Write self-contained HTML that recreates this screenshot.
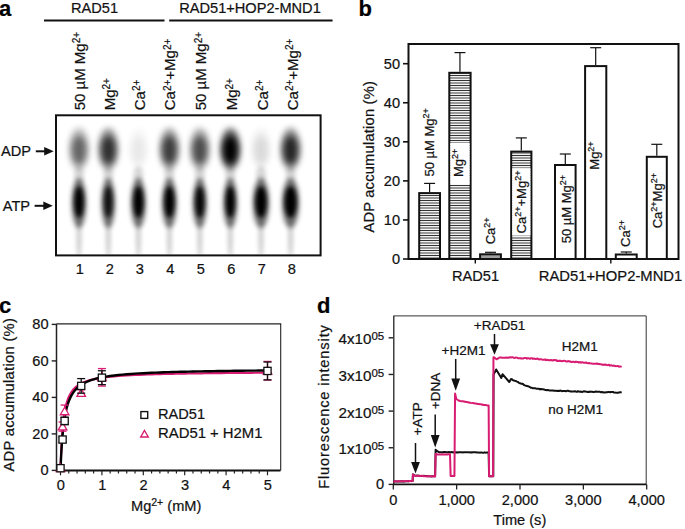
<!DOCTYPE html>
<html><head><meta charset="utf-8"><style>
html,body{margin:0;padding:0;background:#fff;width:685px;height:529px;overflow:hidden;}
text{font-family:"Liberation Sans", sans-serif;stroke:#111;stroke-width:0.22px;}
</style></head><body>
<svg width="685" height="529" viewBox="0 0 685 529" style="position:absolute;left:0;top:0" font-family='"Liberation Sans", sans-serif'>
<defs>
<filter id="b3" x="-100%" y="-100%" width="300%" height="300%"><feGaussianBlur stdDeviation="3.2"/></filter>
<filter id="b2" x="-100%" y="-100%" width="300%" height="300%"><feGaussianBlur stdDeviation="2.2"/></filter>
<filter id="b25" x="-100%" y="-100%" width="300%" height="300%"><feGaussianBlur stdDeviation="2.7"/></filter>
<filter id="b1" x="-100%" y="-100%" width="300%" height="300%"><feGaussianBlur stdDeviation="1.3"/></filter>
<clipPath id="gelclip"><rect x="57" y="116.3" width="262.6" height="138.1"/></clipPath>
<pattern id="hatch" patternUnits="userSpaceOnUse" width="40" height="5" y="0"><rect width="40" height="5" fill="#f2f2f2"/><rect y="0" width="40" height="1" fill="#333"/><rect y="2" width="40" height="2" fill="#9a9a9a"/></pattern>
</defs>
<rect width="685" height="529" fill="#fff"/>
<text x="-1" y="16.2" font-size="22" text-anchor="start" font-weight="bold" fill="#000" >a</text>
<text x="94.6" y="12.9" font-size="14.6" text-anchor="middle" font-weight="normal" fill="#111" >RAD51</text>
<text x="250" y="12.9" font-size="14.6" text-anchor="middle" font-weight="normal" fill="#111" >RAD51+HOP2-MND1</text>
<line x1="44" y1="20.5" x2="164.5" y2="20.5" stroke="#111" stroke-width="2"/>
<line x1="169.2" y1="20.5" x2="332.6" y2="20.5" stroke="#111" stroke-width="2"/>
<text transform="translate(84.5,110.3) rotate(-90)" font-size="15" fill="#111"><tspan dy="0">50 µM Mg</tspan><tspan font-size="10" dy="-4.8">2+</tspan></text>
<text transform="translate(114.5,110.3) rotate(-90)" font-size="15" fill="#111"><tspan dy="0">Mg</tspan><tspan font-size="10" dy="-4.8">2+</tspan></text>
<text transform="translate(144.7,110.3) rotate(-90)" font-size="15" fill="#111"><tspan dy="0">Ca</tspan><tspan font-size="10" dy="-4.8">2+</tspan></text>
<text transform="translate(175.39999999999998,110.3) rotate(-90)" font-size="15" fill="#111"><tspan dy="0">Ca</tspan><tspan font-size="10" dy="-4.8">2+</tspan><tspan dy="4.8">+Mg</tspan><tspan font-size="10" dy="-4.8">2+</tspan></text>
<text transform="translate(206.29999999999998,110.3) rotate(-90)" font-size="15" fill="#111"><tspan dy="0">50 µM Mg</tspan><tspan font-size="10" dy="-4.8">2+</tspan></text>
<text transform="translate(237.39999999999998,110.3) rotate(-90)" font-size="15" fill="#111"><tspan dy="0">Mg</tspan><tspan font-size="10" dy="-4.8">2+</tspan></text>
<text transform="translate(267.7,110.3) rotate(-90)" font-size="15" fill="#111"><tspan dy="0">Ca</tspan><tspan font-size="10" dy="-4.8">2+</tspan></text>
<text transform="translate(297.9,110.3) rotate(-90)" font-size="15" fill="#111"><tspan dy="0">Ca</tspan><tspan font-size="10" dy="-4.8">2+</tspan><tspan dy="4.8">+Mg</tspan><tspan font-size="10" dy="-4.8">2+</tspan></text>
<g clip-path="url(#gelclip)">
<ellipse cx="79.0" cy="238" rx="2.6" ry="20" fill="#000" opacity="0.19" filter="url(#b2)"/>
<ellipse cx="79.0" cy="175" rx="5" ry="9" fill="#000" opacity="0.15" filter="url(#b2)"/>
<ellipse cx="79.0" cy="149" rx="10" ry="21" fill="#000" opacity="0.27" filter="url(#b3)"/>
<ellipse cx="79.0" cy="150" rx="7" ry="14" fill="#000" opacity="0.45" filter="url(#b3)"/>
<ellipse cx="79.0" cy="203" rx="7.3" ry="25" fill="#000" opacity="0.55" filter="url(#b25)"/>
<ellipse cx="79.0" cy="202" rx="4.7" ry="16" fill="#000" opacity="1" filter="url(#b2)"/>
<ellipse cx="108.3" cy="238" rx="2.6" ry="20" fill="#000" opacity="0.19" filter="url(#b2)"/>
<ellipse cx="108.3" cy="175" rx="5" ry="9" fill="#000" opacity="0.15" filter="url(#b2)"/>
<ellipse cx="108.3" cy="149" rx="10" ry="21" fill="#000" opacity="0.41" filter="url(#b3)"/>
<ellipse cx="108.3" cy="150" rx="7" ry="14" fill="#000" opacity="0.68" filter="url(#b3)"/>
<ellipse cx="108.3" cy="203" rx="6.9" ry="25" fill="#000" opacity="0.55" filter="url(#b25)"/>
<ellipse cx="108.3" cy="202" rx="4.3" ry="16" fill="#000" opacity="0.85" filter="url(#b2)"/>
<ellipse cx="138.4" cy="238" rx="2.6" ry="20" fill="#000" opacity="0.19" filter="url(#b2)"/>
<ellipse cx="138.4" cy="175" rx="5" ry="9" fill="#000" opacity="0.15" filter="url(#b2)"/>
<ellipse cx="138.4" cy="149" rx="10" ry="21" fill="#000" opacity="0.03" filter="url(#b3)"/>
<ellipse cx="138.4" cy="150" rx="7" ry="14" fill="#000" opacity="0.05" filter="url(#b3)"/>
<ellipse cx="138.4" cy="203" rx="7.5" ry="25" fill="#000" opacity="0.55" filter="url(#b25)"/>
<ellipse cx="138.4" cy="202" rx="4.9" ry="16" fill="#000" opacity="1" filter="url(#b2)"/>
<ellipse cx="169.4" cy="238" rx="2.6" ry="20" fill="#000" opacity="0.19" filter="url(#b2)"/>
<ellipse cx="169.4" cy="175" rx="5" ry="9" fill="#000" opacity="0.15" filter="url(#b2)"/>
<ellipse cx="169.4" cy="149" rx="10" ry="21" fill="#000" opacity="0.37" filter="url(#b3)"/>
<ellipse cx="169.4" cy="150" rx="7" ry="14" fill="#000" opacity="0.62" filter="url(#b3)"/>
<ellipse cx="169.4" cy="203" rx="7.5" ry="25" fill="#000" opacity="0.55" filter="url(#b25)"/>
<ellipse cx="169.4" cy="202" rx="4.9" ry="16" fill="#000" opacity="1" filter="url(#b2)"/>
<ellipse cx="199.8" cy="238" rx="2.6" ry="20" fill="#000" opacity="0.19" filter="url(#b2)"/>
<ellipse cx="199.8" cy="175" rx="5" ry="9" fill="#000" opacity="0.15" filter="url(#b2)"/>
<ellipse cx="199.8" cy="149" rx="10" ry="21" fill="#000" opacity="0.33" filter="url(#b3)"/>
<ellipse cx="199.8" cy="150" rx="7" ry="14" fill="#000" opacity="0.55" filter="url(#b3)"/>
<ellipse cx="199.8" cy="203" rx="7.1" ry="25" fill="#000" opacity="0.55" filter="url(#b25)"/>
<ellipse cx="199.8" cy="202" rx="4.5" ry="16" fill="#000" opacity="0.95" filter="url(#b2)"/>
<ellipse cx="230.3" cy="238" rx="2.6" ry="20" fill="#000" opacity="0.19" filter="url(#b2)"/>
<ellipse cx="230.3" cy="175" rx="5" ry="9" fill="#000" opacity="0.15" filter="url(#b2)"/>
<ellipse cx="230.3" cy="149" rx="10" ry="21" fill="#000" opacity="0.60" filter="url(#b3)"/>
<ellipse cx="230.3" cy="150" rx="7" ry="14" fill="#000" opacity="1.00" filter="url(#b3)"/>
<ellipse cx="230.3" cy="203" rx="7.1" ry="25" fill="#000" opacity="0.55" filter="url(#b25)"/>
<ellipse cx="230.3" cy="202" rx="4.5" ry="16" fill="#000" opacity="1" filter="url(#b2)"/>
<ellipse cx="261.0" cy="238" rx="2.6" ry="20" fill="#000" opacity="0.19" filter="url(#b2)"/>
<ellipse cx="261.0" cy="175" rx="5" ry="9" fill="#000" opacity="0.15" filter="url(#b2)"/>
<ellipse cx="261.0" cy="149" rx="10" ry="21" fill="#000" opacity="0.05" filter="url(#b3)"/>
<ellipse cx="261.0" cy="150" rx="7" ry="14" fill="#000" opacity="0.09" filter="url(#b3)"/>
<ellipse cx="261.0" cy="203" rx="8.2" ry="25" fill="#000" opacity="0.55" filter="url(#b25)"/>
<ellipse cx="261.0" cy="202" rx="5.6000000000000005" ry="16" fill="#000" opacity="1" filter="url(#b2)"/>
<ellipse cx="290.6" cy="238" rx="2.6" ry="20" fill="#000" opacity="0.19" filter="url(#b2)"/>
<ellipse cx="290.6" cy="175" rx="5" ry="9" fill="#000" opacity="0.15" filter="url(#b2)"/>
<ellipse cx="290.6" cy="149" rx="10" ry="21" fill="#000" opacity="0.44" filter="url(#b3)"/>
<ellipse cx="290.6" cy="150" rx="7" ry="14" fill="#000" opacity="0.74" filter="url(#b3)"/>
<ellipse cx="290.6" cy="203" rx="8.6" ry="25" fill="#000" opacity="0.55" filter="url(#b25)"/>
<ellipse cx="290.6" cy="202" rx="6.0" ry="16" fill="#000" opacity="1" filter="url(#b2)"/>
</g>
<rect x="56" y="115.3" width="264.6" height="140.1" fill="none" stroke="#111" stroke-width="2"/>
<text x="1.0" y="156" font-size="14.6" text-anchor="start" font-weight="normal" fill="#111" >ADP</text>
<text x="2.8" y="211.4" font-size="14.6" text-anchor="start" font-weight="normal" fill="#111" >ATP</text>
<line x1="35.8" y1="151.3" x2="45.7" y2="151.3" stroke="#111" stroke-width="2"/>
<polygon points="44.2,147.0 53.7,151.3 44.2,155.60000000000002" fill="#111"/>
<line x1="34.6" y1="205.8" x2="44.8" y2="205.8" stroke="#111" stroke-width="2"/>
<polygon points="43.3,201.5 52.8,205.8 43.3,210.10000000000002" fill="#111"/>
<text x="79.7" y="273.6" font-size="14.6" text-anchor="middle" font-weight="normal" fill="#111" >1</text>
<text x="109.7" y="273.6" font-size="14.6" text-anchor="middle" font-weight="normal" fill="#111" >2</text>
<text x="139.7" y="273.6" font-size="14.6" text-anchor="middle" font-weight="normal" fill="#111" >3</text>
<text x="170.2" y="273.6" font-size="14.6" text-anchor="middle" font-weight="normal" fill="#111" >4</text>
<text x="200.7" y="273.6" font-size="14.6" text-anchor="middle" font-weight="normal" fill="#111" >5</text>
<text x="231.2" y="273.6" font-size="14.6" text-anchor="middle" font-weight="normal" fill="#111" >6</text>
<text x="261.7" y="273.6" font-size="14.6" text-anchor="middle" font-weight="normal" fill="#111" >7</text>
<text x="291.7" y="273.6" font-size="14.6" text-anchor="middle" font-weight="normal" fill="#111" >8</text>
<text x="358.6" y="16.3" font-size="22" text-anchor="start" font-weight="bold" fill="#000" >b</text>
<line x1="403" y1="259.00" x2="408" y2="259.00" stroke="#111" stroke-width="1.6"/>
<text x="400" y="264.0" font-size="14.6" text-anchor="end" font-weight="normal" fill="#111" >0</text>
<line x1="403" y1="219.94" x2="408" y2="219.94" stroke="#111" stroke-width="1.6"/>
<text x="400" y="224.94" font-size="14.6" text-anchor="end" font-weight="normal" fill="#111" >10</text>
<line x1="403" y1="180.88" x2="408" y2="180.88" stroke="#111" stroke-width="1.6"/>
<text x="400" y="185.88" font-size="14.6" text-anchor="end" font-weight="normal" fill="#111" >20</text>
<line x1="403" y1="141.82" x2="408" y2="141.82" stroke="#111" stroke-width="1.6"/>
<text x="400" y="146.82" font-size="14.6" text-anchor="end" font-weight="normal" fill="#111" >30</text>
<line x1="403" y1="102.76" x2="408" y2="102.76" stroke="#111" stroke-width="1.6"/>
<text x="400" y="107.75999999999999" font-size="14.6" text-anchor="end" font-weight="normal" fill="#111" >40</text>
<line x1="403" y1="63.70" x2="408" y2="63.70" stroke="#111" stroke-width="1.6"/>
<text x="400" y="68.69999999999999" font-size="14.6" text-anchor="end" font-weight="normal" fill="#111" >50</text>
<text transform="translate(373.6,232.6) rotate(-90)" font-size="14.7" fill="#111" textLength="151.5" lengthAdjust="spacing">ADP accumulation (%)</text>
<line x1="429.60" y1="183.4" x2="429.60" y2="192.1" stroke="#111" stroke-width="1.2"/>
<line x1="424.10" y1="183.4" x2="435.10" y2="183.4" stroke="#111" stroke-width="1.2"/>
<rect x="419.2" y="193.1" width="20.80" height="65.90" fill="url(#hatch)" stroke="#111" stroke-width="2"/>
<line x1="459.95" y1="52.6" x2="459.95" y2="71.8" stroke="#111" stroke-width="1.2"/>
<line x1="454.45" y1="52.6" x2="465.45" y2="52.6" stroke="#111" stroke-width="1.2"/>
<rect x="449.3" y="72.8" width="21.30" height="186.20" fill="url(#hatch)" stroke="#111" stroke-width="2"/>
<rect x="450.3" y="143.0" width="19.30" height="41.60" fill="#fff"/>
<line x1="490.50" y1="252.3" x2="490.50" y2="253.3" stroke="#111" stroke-width="1.2"/>
<line x1="485.00" y1="252.3" x2="496.00" y2="252.3" stroke="#111" stroke-width="1.2"/>
<rect x="480.1" y="254.3" width="20.80" height="4.70" fill="#a0a0a0" stroke="#111" stroke-width="2"/>
<line x1="521.30" y1="137.9" x2="521.30" y2="150.6" stroke="#111" stroke-width="1.2"/>
<line x1="515.80" y1="137.9" x2="526.80" y2="137.9" stroke="#111" stroke-width="1.2"/>
<rect x="511.2" y="151.6" width="20.20" height="107.40" fill="url(#hatch)" stroke="#111" stroke-width="2"/>
<rect x="512.2" y="168.2" width="18.20" height="67.50" fill="#fff"/>
<line x1="565.30" y1="154.0" x2="565.30" y2="164.0" stroke="#111" stroke-width="1.2"/>
<line x1="559.80" y1="154.0" x2="570.80" y2="154.0" stroke="#111" stroke-width="1.2"/>
<rect x="555.0" y="165.0" width="20.60" height="94.00" fill="#fff" stroke="#111" stroke-width="2"/>
<line x1="595.70" y1="47.7" x2="595.70" y2="65.1" stroke="#111" stroke-width="1.2"/>
<line x1="590.20" y1="47.7" x2="601.20" y2="47.7" stroke="#111" stroke-width="1.2"/>
<rect x="585.1" y="66.1" width="21.20" height="192.90" fill="#fff" stroke="#111" stroke-width="2"/>
<line x1="626.25" y1="252.0" x2="626.25" y2="253.5" stroke="#111" stroke-width="1.2"/>
<line x1="620.75" y1="252.0" x2="631.75" y2="252.0" stroke="#111" stroke-width="1.2"/>
<rect x="615.8" y="254.5" width="20.90" height="4.50" fill="#fff" stroke="#111" stroke-width="2"/>
<line x1="656.80" y1="144.3" x2="656.80" y2="155.8" stroke="#111" stroke-width="1.2"/>
<line x1="651.30" y1="144.3" x2="662.30" y2="144.3" stroke="#111" stroke-width="1.2"/>
<rect x="646.8" y="156.8" width="20.00" height="102.20" fill="#fff" stroke="#111" stroke-width="2"/>
<rect x="408.5" y="44" width="270" height="215" fill="none" stroke="#111" stroke-width="2"/>
<text transform="translate(433.9,176.6) rotate(-90)" font-size="13" fill="#111"><tspan dy="0">50 µM Mg</tspan><tspan font-size="9" dy="-5">2+</tspan></text>
<text transform="translate(462.5,177.0) rotate(-90)" font-size="13" fill="#111"><tspan dy="0">Mg</tspan><tspan font-size="9" dy="-5">2+</tspan></text>
<text transform="translate(494.6,244.3) rotate(-90)" font-size="13" fill="#111"><tspan dy="0">Ca</tspan><tspan font-size="9" dy="-5">2+</tspan></text>
<text transform="translate(526.3,233.4) rotate(-90)" font-size="13" fill="#111"><tspan dy="0">Ca</tspan><tspan font-size="9" dy="-5">2+</tspan><tspan dy="5">+Mg</tspan><tspan font-size="9" dy="-5">2+</tspan></text>
<text transform="translate(570.8,243.3) rotate(-90)" font-size="13" fill="#111"><tspan dy="0">50 µM Mg</tspan><tspan font-size="9" dy="-5">2+</tspan></text>
<text transform="translate(599.0,169.7) rotate(-90)" font-size="13" fill="#111"><tspan dy="0">Mg</tspan><tspan font-size="9" dy="-5">2+</tspan></text>
<text transform="translate(629.6,246.9) rotate(-90)" font-size="13" fill="#111"><tspan dy="0">Ca</tspan><tspan font-size="9" dy="-5">2+</tspan></text>
<text transform="translate(661.8,228.3) rotate(-90)" font-size="13" fill="#111"><tspan dy="0">Ca</tspan><tspan font-size="9" dy="-5">2+</tspan><tspan dy="5">Mg</tspan><tspan font-size="9" dy="-5">2+</tspan></text>
<line x1="475.3" y1="259" x2="475.3" y2="263.5" stroke="#111" stroke-width="1.4"/>
<line x1="610.8" y1="259" x2="610.8" y2="263.5" stroke="#111" stroke-width="1.4"/>
<text x="475.6" y="281.2" font-size="14.6" text-anchor="middle" font-weight="normal" fill="#111" >RAD51</text>
<text x="610.5" y="281.0" font-size="14.6" text-anchor="middle" font-weight="normal" fill="#111" textLength="143.5" lengthAdjust="spacingAndGlyphs">RAD51+HOP2-MND1</text>
<text x="-1" y="312.9" font-size="22" text-anchor="start" font-weight="bold" fill="#000" >c</text>
<line x1="56.5" y1="323.9" x2="281.2" y2="323.9" stroke="#222" stroke-width="1.1"/>
<line x1="280.7" y1="323.9" x2="280.7" y2="470.4" stroke="#222" stroke-width="1.1"/>
<line x1="56.5" y1="323.9" x2="56.5" y2="470.4" stroke="#222" stroke-width="1.5"/>
<line x1="56" y1="470.4" x2="280.5" y2="470.4" stroke="#111" stroke-width="2"/>
<line x1="51.7" y1="470.40" x2="56.5" y2="470.40" stroke="#222" stroke-width="1.4"/>
<text x="48.6" y="475.4" font-size="14.6" text-anchor="end" font-weight="normal" fill="#111" >0</text>
<line x1="51.7" y1="433.90" x2="56.5" y2="433.90" stroke="#222" stroke-width="1.4"/>
<text x="48.6" y="438.9" font-size="14.6" text-anchor="end" font-weight="normal" fill="#111" >20</text>
<line x1="51.7" y1="397.40" x2="56.5" y2="397.40" stroke="#222" stroke-width="1.4"/>
<text x="48.6" y="402.4" font-size="14.6" text-anchor="end" font-weight="normal" fill="#111" >40</text>
<line x1="51.7" y1="360.90" x2="56.5" y2="360.90" stroke="#222" stroke-width="1.4"/>
<text x="48.6" y="365.9" font-size="14.6" text-anchor="end" font-weight="normal" fill="#111" >60</text>
<line x1="51.7" y1="324.40" x2="56.5" y2="324.40" stroke="#222" stroke-width="1.4"/>
<text x="48.6" y="329.4" font-size="14.6" text-anchor="end" font-weight="normal" fill="#111" >80</text>
<line x1="60.50" y1="470.4" x2="60.50" y2="475.30" stroke="#222" stroke-width="1.2"/>
<text x="60.8" y="490.3" font-size="14.6" text-anchor="middle" font-weight="normal" fill="#111" >0</text>
<line x1="68.78" y1="470.4" x2="68.78" y2="473.50" stroke="#222" stroke-width="1.2"/>
<line x1="77.06" y1="470.4" x2="77.06" y2="473.50" stroke="#222" stroke-width="1.2"/>
<line x1="85.34" y1="470.4" x2="85.34" y2="473.50" stroke="#222" stroke-width="1.2"/>
<line x1="93.62" y1="470.4" x2="93.62" y2="473.50" stroke="#222" stroke-width="1.2"/>
<line x1="101.90" y1="470.4" x2="101.90" y2="475.30" stroke="#222" stroke-width="1.2"/>
<text x="102.2" y="490.3" font-size="14.6" text-anchor="middle" font-weight="normal" fill="#111" >1</text>
<line x1="110.18" y1="470.4" x2="110.18" y2="473.50" stroke="#222" stroke-width="1.2"/>
<line x1="118.46" y1="470.4" x2="118.46" y2="473.50" stroke="#222" stroke-width="1.2"/>
<line x1="126.74" y1="470.4" x2="126.74" y2="473.50" stroke="#222" stroke-width="1.2"/>
<line x1="135.02" y1="470.4" x2="135.02" y2="473.50" stroke="#222" stroke-width="1.2"/>
<line x1="143.30" y1="470.4" x2="143.30" y2="475.30" stroke="#222" stroke-width="1.2"/>
<text x="143.60000000000002" y="490.3" font-size="14.6" text-anchor="middle" font-weight="normal" fill="#111" >2</text>
<line x1="151.58" y1="470.4" x2="151.58" y2="473.50" stroke="#222" stroke-width="1.2"/>
<line x1="159.86" y1="470.4" x2="159.86" y2="473.50" stroke="#222" stroke-width="1.2"/>
<line x1="168.14" y1="470.4" x2="168.14" y2="473.50" stroke="#222" stroke-width="1.2"/>
<line x1="176.42" y1="470.4" x2="176.42" y2="473.50" stroke="#222" stroke-width="1.2"/>
<line x1="184.70" y1="470.4" x2="184.70" y2="475.30" stroke="#222" stroke-width="1.2"/>
<text x="185.0" y="490.3" font-size="14.6" text-anchor="middle" font-weight="normal" fill="#111" >3</text>
<line x1="192.98" y1="470.4" x2="192.98" y2="473.50" stroke="#222" stroke-width="1.2"/>
<line x1="201.26" y1="470.4" x2="201.26" y2="473.50" stroke="#222" stroke-width="1.2"/>
<line x1="209.54" y1="470.4" x2="209.54" y2="473.50" stroke="#222" stroke-width="1.2"/>
<line x1="217.82" y1="470.4" x2="217.82" y2="473.50" stroke="#222" stroke-width="1.2"/>
<line x1="226.10" y1="470.4" x2="226.10" y2="475.30" stroke="#222" stroke-width="1.2"/>
<text x="226.4" y="490.3" font-size="14.6" text-anchor="middle" font-weight="normal" fill="#111" >4</text>
<line x1="234.38" y1="470.4" x2="234.38" y2="473.50" stroke="#222" stroke-width="1.2"/>
<line x1="242.66" y1="470.4" x2="242.66" y2="473.50" stroke="#222" stroke-width="1.2"/>
<line x1="250.94" y1="470.4" x2="250.94" y2="473.50" stroke="#222" stroke-width="1.2"/>
<line x1="259.22" y1="470.4" x2="259.22" y2="473.50" stroke="#222" stroke-width="1.2"/>
<line x1="267.50" y1="470.4" x2="267.50" y2="475.30" stroke="#222" stroke-width="1.2"/>
<text x="267.8" y="490.3" font-size="14.6" text-anchor="middle" font-weight="normal" fill="#111" >5</text>
<text transform="translate(13.9,471.6) rotate(-90)" font-size="14.7" fill="#111" textLength="153.5" lengthAdjust="spacing">ADP accumulation (%)</text>
<text x="131" y="511.2" font-size="14.6" fill="#111">Mg<tspan font-size="10.5" dy="-5.5">2+</tspan><tspan dy="5.5"> (mM)</tspan></text>
<polyline points="60.50,470.40 60.71,463.79 60.91,458.01 61.12,452.91 61.33,448.38 61.53,444.32 61.74,440.67 61.95,437.37 62.16,434.36 62.36,431.62 62.57,429.11 62.78,426.80 62.98,424.66 63.19,422.69 63.40,420.85 63.60,419.14 63.81,417.55 64.02,416.06 64.23,414.66 64.43,413.34 64.64,412.11 64.85,410.94 65.05,409.84 65.26,408.80 65.47,407.81 65.67,406.88 65.88,405.99 66.09,405.14 66.30,404.33 66.50,403.57 66.71,402.83 66.92,402.13 67.12,401.46 67.33,400.82 67.54,400.21 67.75,399.62 67.95,399.05 68.16,398.51 68.37,397.98 68.57,397.48 68.78,396.99 69.61,395.22 70.44,393.68 71.26,392.32 72.09,391.12 72.92,390.05 73.75,389.09 74.58,388.22 75.40,387.43 76.23,386.72 77.06,386.06 77.89,385.46 78.72,384.90 79.54,384.39 80.37,383.91 81.20,383.47 82.03,383.06 82.86,382.67 83.68,382.31 84.51,381.97 85.34,381.66 86.17,381.36 87.00,381.07 87.82,380.80 88.65,380.55 89.48,380.31 90.31,380.08 91.14,379.87 91.96,379.66 92.79,379.46 93.62,379.28 94.45,379.10 95.28,378.93 96.10,378.76 96.93,378.60 97.76,378.45 98.59,378.31 99.42,378.17 100.24,378.04 101.07,377.91 101.90,377.79 106.04,377.23 110.18,376.76 114.32,376.37 118.46,376.02 122.60,375.72 126.74,375.46 130.88,375.22 135.02,375.01 139.16,374.82 143.30,374.65 147.44,374.50 151.58,374.36 155.72,374.23 159.86,374.11 164.00,374.00 168.14,373.90 172.28,373.81 176.42,373.72 180.56,373.64 184.70,373.56 188.84,373.49 192.98,373.42 197.12,373.36 201.26,373.30 205.40,373.25 209.54,373.19 213.68,373.14 217.82,373.09 221.96,373.05 226.10,373.01 230.24,372.97 234.38,372.93 238.52,372.89 242.66,372.85 246.80,372.82 250.94,372.79 255.08,372.76 259.22,372.73 263.36,372.70 267.50,372.67" fill="none" stroke="#d81c72" stroke-width="2.2"/>
<polyline points="60.50,470.40 60.71,465.31 60.91,460.70 61.12,456.51 61.33,452.69 61.53,449.18 61.74,445.96 61.95,442.98 62.16,440.23 62.36,437.67 62.57,435.28 62.78,433.06 62.98,430.98 63.19,429.03 63.40,427.20 63.60,425.47 63.81,423.85 64.02,422.31 64.23,420.86 64.43,419.48 64.64,418.18 64.85,416.94 65.05,415.76 65.26,414.63 65.47,413.56 65.67,412.54 65.88,411.56 66.09,410.63 66.30,409.73 66.50,408.87 66.71,408.05 66.92,407.26 67.12,406.50 67.33,405.77 67.54,405.07 67.75,404.40 67.95,403.74 68.16,403.12 68.37,402.51 68.57,401.92 68.78,401.36 69.61,399.28 70.44,397.44 71.26,395.82 72.09,394.36 72.92,393.06 73.75,391.88 74.58,390.80 75.40,389.83 76.23,388.93 77.06,388.11 77.89,387.35 78.72,386.65 79.54,386.00 80.37,385.39 81.20,384.82 82.03,384.30 82.86,383.80 83.68,383.33 84.51,382.90 85.34,382.48 86.17,382.10 87.00,381.73 87.82,381.38 88.65,381.05 89.48,380.73 90.31,380.44 91.14,380.15 91.96,379.88 92.79,379.62 93.62,379.37 94.45,379.14 95.28,378.91 96.10,378.70 96.93,378.49 97.76,378.29 98.59,378.10 99.42,377.91 100.24,377.73 101.07,377.56 101.90,377.40 106.04,376.66 110.18,376.04 114.32,375.50 118.46,375.04 122.60,374.63 126.74,374.27 130.88,373.95 135.02,373.67 139.16,373.41 143.30,373.18 147.44,372.97 151.58,372.78 155.72,372.60 159.86,372.44 164.00,372.29 168.14,372.15 172.28,372.03 176.42,371.91 180.56,371.80 184.70,371.69 188.84,371.59 192.98,371.50 197.12,371.41 201.26,371.33 205.40,371.26 209.54,371.18 213.68,371.11 217.82,371.05 221.96,370.99 226.10,370.93 230.24,370.87 234.38,370.82 238.52,370.77 242.66,370.72 246.80,370.67 250.94,370.63 255.08,370.58 259.22,370.54 263.36,370.50 267.50,370.46" fill="none" stroke="#000" stroke-width="2.4"/>
<line x1="62.57" y1="422.04" x2="62.57" y2="431.16" stroke="#d81c72" stroke-width="1.3"/>
<line x1="58.57" y1="422.04" x2="66.57" y2="422.04" stroke="#d81c72" stroke-width="1.3"/>
<line x1="58.57" y1="431.16" x2="66.57" y2="431.16" stroke="#d81c72" stroke-width="1.3"/>
<line x1="64.64" y1="405.06" x2="64.64" y2="417.84" stroke="#d81c72" stroke-width="1.3"/>
<line x1="60.64" y1="405.06" x2="68.64" y2="405.06" stroke="#d81c72" stroke-width="1.3"/>
<line x1="60.64" y1="417.84" x2="68.64" y2="417.84" stroke="#d81c72" stroke-width="1.3"/>
<line x1="81.20" y1="389.74" x2="81.20" y2="396.30" stroke="#d81c72" stroke-width="1.3"/>
<line x1="77.20" y1="389.74" x2="85.20" y2="389.74" stroke="#d81c72" stroke-width="1.3"/>
<line x1="77.20" y1="396.30" x2="85.20" y2="396.30" stroke="#d81c72" stroke-width="1.3"/>
<line x1="101.90" y1="368.56" x2="101.90" y2="386.08" stroke="#d81c72" stroke-width="1.3"/>
<line x1="97.90" y1="368.56" x2="105.90" y2="368.56" stroke="#d81c72" stroke-width="1.3"/>
<line x1="97.90" y1="386.08" x2="105.90" y2="386.08" stroke="#d81c72" stroke-width="1.3"/>
<line x1="267.50" y1="361.45" x2="267.50" y2="380.06" stroke="#d81c72" stroke-width="1.3"/>
<line x1="263.50" y1="361.45" x2="271.50" y2="361.45" stroke="#d81c72" stroke-width="1.3"/>
<line x1="263.50" y1="380.06" x2="271.50" y2="380.06" stroke="#d81c72" stroke-width="1.3"/>
<polygon points="60.50,464.01 64.80,471.51 56.20,471.51" fill="#fff" stroke="#d81c72" stroke-width="1.3"/>
<polygon points="62.57,422.40 66.87,429.90 58.27,429.90" fill="#fff" stroke="#d81c72" stroke-width="1.3"/>
<polygon points="64.64,407.25 68.94,414.75 60.34,414.75" fill="#fff" stroke="#d81c72" stroke-width="1.3"/>
<polygon points="81.20,388.82 85.50,396.32 76.90,396.32" fill="#fff" stroke="#d81c72" stroke-width="1.3"/>
<polygon points="101.90,373.12 106.20,380.62 97.60,380.62" fill="#fff" stroke="#d81c72" stroke-width="1.3"/>
<polygon points="267.50,366.56 271.80,374.06 263.20,374.06" fill="#fff" stroke="#d81c72" stroke-width="1.3"/>
<line x1="62.57" y1="436.82" x2="62.57" y2="442.29" stroke="#111" stroke-width="1.3"/>
<line x1="58.57" y1="436.82" x2="66.57" y2="436.82" stroke="#111" stroke-width="1.3"/>
<line x1="58.57" y1="442.29" x2="66.57" y2="442.29" stroke="#111" stroke-width="1.3"/>
<line x1="64.64" y1="417.29" x2="64.64" y2="424.59" stroke="#111" stroke-width="1.3"/>
<line x1="60.64" y1="417.29" x2="68.64" y2="417.29" stroke="#111" stroke-width="1.3"/>
<line x1="60.64" y1="424.59" x2="68.64" y2="424.59" stroke="#111" stroke-width="1.3"/>
<line x1="81.20" y1="378.60" x2="81.20" y2="393.20" stroke="#111" stroke-width="1.3"/>
<line x1="77.20" y1="378.60" x2="85.20" y2="378.60" stroke="#111" stroke-width="1.3"/>
<line x1="77.20" y1="393.20" x2="85.20" y2="393.20" stroke="#111" stroke-width="1.3"/>
<line x1="101.90" y1="370.75" x2="101.90" y2="384.62" stroke="#111" stroke-width="1.3"/>
<line x1="97.90" y1="370.75" x2="105.90" y2="370.75" stroke="#111" stroke-width="1.3"/>
<line x1="97.90" y1="384.62" x2="105.90" y2="384.62" stroke="#111" stroke-width="1.3"/>
<line x1="267.50" y1="362.00" x2="267.50" y2="379.88" stroke="#111" stroke-width="1.3"/>
<line x1="263.50" y1="362.00" x2="271.50" y2="362.00" stroke="#111" stroke-width="1.3"/>
<line x1="263.50" y1="379.88" x2="271.50" y2="379.88" stroke="#111" stroke-width="1.3"/>
<rect x="56.90" y="464.61" width="7.2" height="7.2" fill="#fff" stroke="#111" stroke-width="1.3"/>
<rect x="58.97" y="435.96" width="7.2" height="7.2" fill="#fff" stroke="#111" stroke-width="1.3"/>
<rect x="61.04" y="417.34" width="7.2" height="7.2" fill="#fff" stroke="#111" stroke-width="1.3"/>
<rect x="77.60" y="382.30" width="7.2" height="7.2" fill="#fff" stroke="#111" stroke-width="1.3"/>
<rect x="98.30" y="374.09" width="7.2" height="7.2" fill="#fff" stroke="#111" stroke-width="1.3"/>
<rect x="263.90" y="367.34" width="7.2" height="7.2" fill="#fff" stroke="#111" stroke-width="1.3"/>
<rect x="140.9" y="411.6" width="6.8" height="6.8" fill="#fff" stroke="#111" stroke-width="1.4"/>
<polygon points="144.5,430.5 148.3,437 140.7,437" fill="#fff" stroke="#d81c72" stroke-width="1.4"/>
<text x="158" y="418.9" font-size="14.6" text-anchor="start" font-weight="normal" fill="#111" >RAD51</text>
<text x="158" y="438.2" font-size="14.6" text-anchor="start" font-weight="normal" fill="#111" textLength="104.5" lengthAdjust="spacingAndGlyphs">RAD51 + H2M1</text>
<text x="317" y="312.8" font-size="22" text-anchor="start" font-weight="bold" fill="#000" >d</text>
<line x1="393.3" y1="315.9" x2="646.2" y2="315.9" stroke="#333" stroke-width="1"/>
<line x1="646.2" y1="315.9" x2="646.2" y2="484.4" stroke="#333" stroke-width="1"/>
<line x1="393.8" y1="315.9" x2="393.8" y2="484.4" stroke="#222" stroke-width="1.3"/>
<line x1="393" y1="484.4" x2="646.5" y2="484.4" stroke="#111" stroke-width="1.6"/>
<line x1="388.6" y1="484.40" x2="393.3" y2="484.40" stroke="#222" stroke-width="1.4"/>
<text x="384" y="489.4" font-size="14.6" text-anchor="end" font-weight="normal" fill="#111" >0</text>
<line x1="388.6" y1="447.75" x2="393.3" y2="447.75" stroke="#222" stroke-width="1.4"/>
<text x="384.2" y="454.35" font-size="15.2" text-anchor="end" fill="#111">1x10<tspan font-size="11.5" dy="-4.0">05</tspan></text>
<line x1="388.6" y1="411.10" x2="393.3" y2="411.10" stroke="#222" stroke-width="1.4"/>
<text x="384.2" y="417.70" font-size="15.2" text-anchor="end" fill="#111">2x10<tspan font-size="11.5" dy="-4.0">05</tspan></text>
<line x1="388.6" y1="374.45" x2="393.3" y2="374.45" stroke="#222" stroke-width="1.4"/>
<text x="384.2" y="381.05" font-size="15.2" text-anchor="end" fill="#111">3x10<tspan font-size="11.5" dy="-4.0">05</tspan></text>
<line x1="388.6" y1="337.80" x2="393.3" y2="337.80" stroke="#222" stroke-width="1.4"/>
<text x="384.2" y="344.40" font-size="15.2" text-anchor="end" fill="#111">4x10<tspan font-size="11.5" dy="-4.0">05</tspan></text>
<line x1="393.30" y1="484.4" x2="393.30" y2="489.5" stroke="#222" stroke-width="1.3"/>
<text x="393.3" y="504.6" font-size="14.6" text-anchor="middle" font-weight="normal" fill="#111" >0</text>
<line x1="456.65" y1="484.4" x2="456.65" y2="489.5" stroke="#222" stroke-width="1.3"/>
<text x="456.65000000000003" y="504.6" font-size="14.6" text-anchor="middle" font-weight="normal" fill="#111" >1,000</text>
<line x1="520.00" y1="484.4" x2="520.00" y2="489.5" stroke="#222" stroke-width="1.3"/>
<text x="520.0" y="504.6" font-size="14.6" text-anchor="middle" font-weight="normal" fill="#111" >2,000</text>
<line x1="583.35" y1="484.4" x2="583.35" y2="489.5" stroke="#222" stroke-width="1.3"/>
<text x="583.35" y="504.6" font-size="14.6" text-anchor="middle" font-weight="normal" fill="#111" >3,000</text>
<line x1="646.70" y1="484.4" x2="646.70" y2="489.5" stroke="#222" stroke-width="1.3"/>
<text x="646.7" y="504.6" font-size="14.6" text-anchor="middle" font-weight="normal" fill="#111" >4,000</text>
<text x="519.8" y="524.8" font-size="14.6" text-anchor="middle" font-weight="normal" fill="#111" >Time (s)</text>
<text transform="translate(329.3,488.8) rotate(-90)" font-size="14.6" fill="#111" textLength="163.7" lengthAdjust="spacing">Fluorescence intensity</text>
<polyline points="393.30,481.47 394.27,481.53 395.23,481.58 396.20,481.35 397.16,481.58 398.13,481.36 399.10,481.42 400.06,481.53 401.03,481.32 401.99,481.51 402.96,481.31 403.93,481.46 404.89,481.43 405.86,481.26 406.83,481.07 407.79,481.36 408.76,481.30 409.72,481.10 410.69,480.94 411.66,481.09 412.62,481.10 412.94,474.32 414.21,475.24 414.84,475.60 415.85,475.69 416.87,475.47 417.88,475.91 418.89,475.59 419.91,475.88 420.92,475.98 421.93,476.03 422.95,475.98 423.96,475.79 424.98,476.11 425.99,475.97 427.00,475.98 428.02,476.14 429.03,476.10 430.04,476.35 431.06,476.38 432.07,476.36 433.08,476.18 434.10,476.33 435.11,476.34 435.62,449.80 437.65,451.41 438.91,452.15 439.91,452.24 440.90,452.13 441.90,452.19 442.89,452.27 443.88,452.06 444.88,452.10 445.87,452.31 446.87,452.17 447.86,452.20 448.86,452.06 449.85,452.13 450.85,452.33 451.84,452.03 452.84,452.42 453.83,452.29 454.83,452.15 455.82,452.43 456.81,452.28 457.81,452.49 458.80,452.22 459.80,452.19 460.79,452.28 461.79,452.15 462.78,452.41 463.78,452.25 464.77,452.30 465.77,452.31 466.76,452.37 467.76,452.21 468.75,452.17 469.74,452.39 470.74,452.31 471.73,452.58 472.73,452.31 473.72,452.34 474.72,452.20 475.71,452.28 476.71,452.52 477.70,452.48 478.70,452.37 479.69,452.66 480.68,452.47 481.68,452.61 482.67,452.64 483.67,452.67 484.66,452.37 485.66,452.66 486.65,452.61 487.65,452.56 488.64,452.51 489.09,476.34 493.27,476.34 493.58,374.45 496.20,369.50 501.30,378.00 502.50,374.20 509.30,382.00 511.00,379.10 512.00,379.28 513.00,380.32 514.00,380.50 515.00,380.89 516.00,381.10 517.00,381.60 518.00,382.02 519.00,382.91 520.00,383.26 521.00,383.69 522.00,383.69 523.00,384.02 524.00,384.99 525.00,385.36 526.00,385.70 527.00,386.09 528.00,386.29 529.00,386.60 530.00,387.22 531.00,387.79 532.00,387.87 533.00,388.30 534.00,388.28 535.00,388.13 536.00,388.46 537.00,388.72 538.00,388.78 539.00,388.87 540.00,389.46 541.00,388.97 542.00,389.19 543.00,389.26 544.00,389.45 545.00,389.88 546.00,389.94 547.00,390.22 548.00,389.90 549.00,390.39 550.00,390.45 551.00,390.41 552.00,390.51 553.00,390.45 554.00,390.73 555.00,390.83 556.00,390.79 557.00,390.89 558.00,390.77 559.00,391.08 560.00,390.53 561.00,390.76 562.00,391.14 563.00,391.10 564.00,391.07 565.00,391.10 566.00,391.32 567.00,390.82 568.00,390.76 569.00,391.18 570.00,391.21 571.00,391.54 572.00,391.57 573.00,391.44 574.00,391.53 575.00,391.16 576.00,391.69 577.00,391.83 578.00,391.19 579.00,391.54 580.00,391.86 581.00,391.59 582.00,391.99 583.00,391.64 584.00,391.33 585.00,391.43 586.00,391.58 587.00,391.92 588.00,391.86 589.00,392.02 590.00,391.60 591.00,391.80 592.00,391.64 593.00,391.98 594.00,392.08 595.00,391.67 596.00,391.56 597.00,391.68 598.00,391.74 599.00,391.75 600.00,391.82 601.00,392.23 602.00,392.04 603.00,392.19 604.00,392.46 605.00,392.48 606.00,392.33 607.00,392.37 608.00,392.08 609.00,391.91 610.00,392.32 611.00,391.98 612.00,391.97 613.00,392.03 614.00,392.49 615.00,392.62 616.00,392.64 617.00,392.69 618.00,392.71 619.00,392.43 620.00,392.26 621.00,392.33 621.70,392.60" fill="none" stroke="#111" stroke-width="2.0" stroke-linejoin="round"/>
<polyline points="393.30,481.47 394.27,481.46 395.23,481.36 396.20,481.28 397.16,481.58 398.13,481.31 399.10,481.18 400.06,481.22 401.03,481.21 401.99,481.31 402.96,481.43 403.93,481.14 404.89,481.32 405.86,481.10 406.83,481.00 407.79,481.24 408.76,481.22 409.72,480.96 410.69,481.04 411.66,481.26 412.62,481.10 412.94,474.50 414.21,475.24 414.84,475.79 415.85,475.99 416.87,476.01 417.88,475.72 418.89,475.80 419.91,476.13 420.92,475.86 421.93,475.83 422.95,476.01 423.96,476.18 424.98,476.13 425.99,476.35 427.00,476.44 428.02,476.06 429.03,476.23 430.04,476.33 431.06,476.18 432.07,476.44 433.08,476.28 434.10,476.34 435.11,476.52 435.62,453.98 436.38,454.35 437.74,454.47 439.10,454.46 440.46,454.44 441.83,454.46 443.19,454.31 444.55,454.45 445.91,454.38 447.27,454.51 448.64,454.17 450.00,454.35 450.63,475.97 454.43,475.97 455.07,393.51 456.33,399.01 458.55,400.47 459.18,400.84 460.17,401.06 461.15,401.17 462.13,401.28 463.11,401.30 464.09,401.67 465.08,401.61 466.06,401.95 467.04,402.09 468.02,402.26 469.00,402.64 469.99,402.61 470.97,402.88 471.95,403.12 472.93,402.93 473.91,403.36 474.89,403.39 475.88,403.44 476.86,403.67 477.84,403.93 478.82,404.01 479.80,404.15 480.79,404.21 481.77,404.66 482.75,404.62 483.73,404.92 484.71,405.07 485.70,405.01 486.68,405.28 487.66,405.42 488.64,405.60 489.09,476.34 493.08,476.34 493.46,357.22 494.00,357.20 496.50,359.30 499.00,357.80 500.00,357.55 501.00,357.40 502.00,357.80 503.00,357.63 504.00,357.70 505.00,357.68 506.00,357.50 507.00,357.70 508.00,357.61 509.00,357.64 510.00,357.21 511.00,357.47 512.00,357.36 513.00,357.35 514.00,357.99 515.00,357.77 516.00,357.48 517.00,357.62 518.00,358.28 519.00,358.34 520.00,358.10 521.00,358.47 522.00,358.37 523.00,358.56 524.00,358.08 525.00,358.03 526.00,357.97 527.00,358.67 528.00,358.22 529.00,358.31 530.00,358.81 531.00,358.24 532.00,358.24 533.00,358.97 534.00,358.40 535.00,358.96 536.00,358.96 537.00,358.59 538.00,358.81 539.00,359.47 540.00,359.31 541.00,359.31 542.00,359.54 543.00,359.74 544.00,359.71 545.00,359.43 546.00,360.12 547.00,359.73 548.00,359.90 549.00,360.35 550.00,360.15 551.00,359.97 552.00,360.14 553.00,360.61 554.00,359.88 555.00,360.13 556.00,360.05 557.00,360.88 558.00,360.82 559.00,361.09 560.00,360.52 561.00,361.05 562.00,361.25 563.00,361.07 564.00,360.71 565.00,360.87 566.00,361.44 567.00,361.61 568.00,361.01 569.00,361.39 570.00,361.36 571.00,361.97 572.00,362.08 573.00,361.60 574.00,361.91 575.00,362.29 576.00,361.61 577.00,361.95 578.00,361.88 579.00,362.59 580.00,361.99 581.00,362.77 582.00,362.15 583.00,362.60 584.00,362.78 585.00,362.68 586.00,362.43 587.00,363.10 588.00,363.31 589.00,363.04 590.00,363.38 591.00,363.58 592.00,363.62 593.00,363.80 594.00,363.75 595.00,363.74 596.00,363.83 597.00,363.52 598.00,364.01 599.00,363.91 600.00,364.28 601.00,364.27 602.00,364.69 603.00,364.62 604.00,364.96 605.00,364.46 606.00,364.76 607.00,365.21 608.00,365.09 609.00,364.82 610.00,365.68 611.00,365.19 612.00,365.66 613.00,365.74 614.00,365.58 615.00,366.10 616.00,366.13 617.00,366.11 618.00,365.98 619.00,366.68 620.00,366.38 621.00,366.62 621.70,366.90" fill="none" stroke="#d81c72" stroke-width="2.0" stroke-linejoin="round"/>
<line x1="415.5" y1="443.0" x2="415.5" y2="463.0" stroke="#111" stroke-width="1.5"/>
<polygon points="411.1,462.0 419.9,462.0 415.5,473.6" fill="#111"/>
<line x1="435.2" y1="414.5" x2="435.2" y2="436.0" stroke="#111" stroke-width="1.5"/>
<polygon points="430.8,435.0 439.59999999999997,435.0 435.2,447.5" fill="#111"/>
<line x1="455.7" y1="358.9" x2="455.7" y2="379.6" stroke="#111" stroke-width="1.5"/>
<polygon points="451.3,378.6 460.09999999999997,378.6 455.7,390.7" fill="#111"/>
<line x1="494.5" y1="333.9" x2="494.5" y2="345.3" stroke="#111" stroke-width="1.5"/>
<polygon points="490.1,344.3 498.9,344.3 494.5,354.7" fill="#111"/>
<text transform="translate(421.6,435.5) rotate(-90)" font-size="13.5" fill="#111">+ATP</text>
<text transform="translate(439.8,409.2) rotate(-90)" font-size="13.5" fill="#111">+DNA</text>
<text x="441.5" y="354.7" font-size="13.5" text-anchor="start" font-weight="normal" fill="#111" >+H2M1</text>
<text x="473.8" y="329.8" font-size="13.5" text-anchor="start" font-weight="normal" fill="#111" >+RAD51</text>
<text x="561.8" y="351.1" font-size="13.5" text-anchor="start" font-weight="normal" fill="#111" >H2M1</text>
<text x="548.2" y="413.5" font-size="13.5" text-anchor="start" font-weight="normal" fill="#111" >no H2M1</text>
</svg>
</body></html>
